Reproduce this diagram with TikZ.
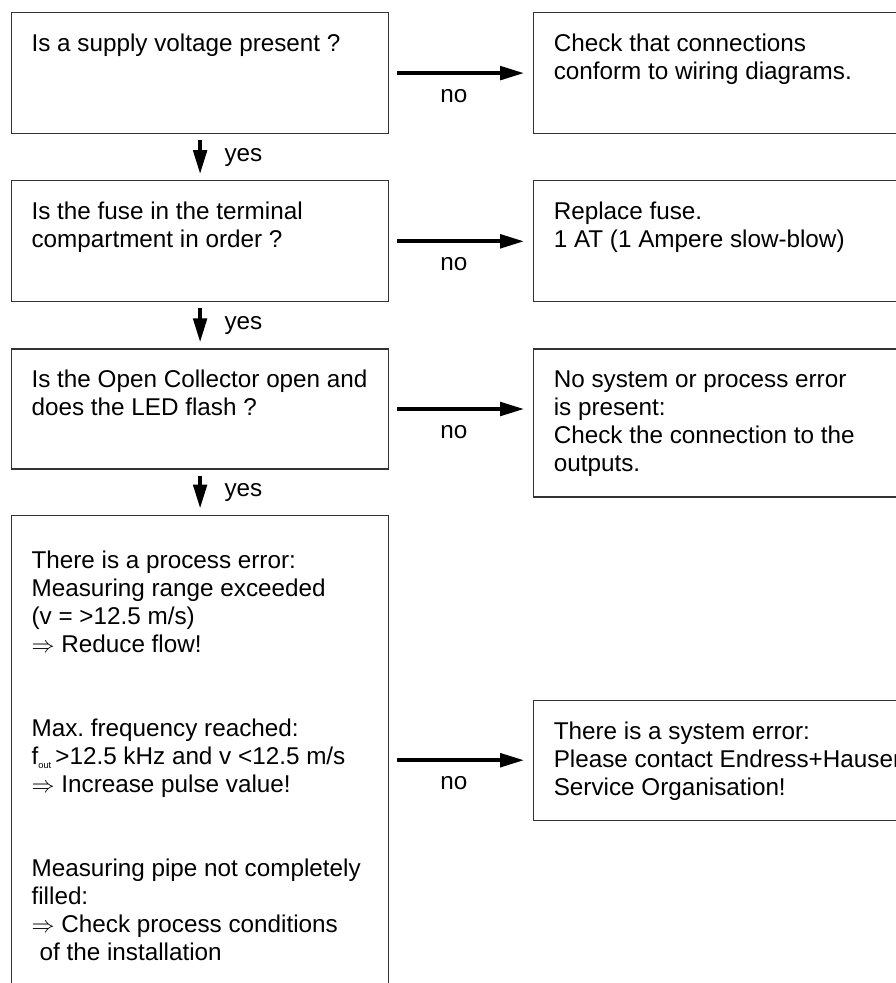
\documentclass[tikz,border=0pt]{standalone}
\usepackage{fontspec}
\setmainfont{Liberation Sans}
\usetikzlibrary{positioning,arrows.meta}
\frenchspacing

\newcommand{\cell}[4][0pt]{\parbox[t][#2][t]{#3}{\vspace*{#1}\strut#4}}

\tikzset{
  qbox/.style={draw=black!80, line width=0.9pt, inner xsep=15pt, inner ysep=14.5pt,
    anchor=north west, font=\fontsize{18.2}{21}\selectfont},
  flow/.style={-{Triangle[length=18pt,width=10pt]}, line width=3pt},
  lbl/.style={font=\fontsize{18.2}{21}\selectfont}
}

\begin{document}
\begin{tikzpicture}[x=0.75pt,y=-0.75pt]
\useasboundingbox (0,0) rectangle (896,983);

\node[qbox] (q1) at (11,12) {\cell{61.75pt}{252.75pt}{Is a supply voltage present ?}};
\node[qbox, below=34.5pt of q1] (q2) {\cell{61.75pt}{252.75pt}{Is the fuse in the terminal\\compartment in order ?}};
\node[qbox, below=34.5pt of q2] (q3) {\cell{61pt}{252.75pt}{Is the Open Collector open and\\does the LED flash ?}};
\node[qbox, below=33.75pt of q3] (q4) {\cell[11pt]{400pt}{252.75pt}{There is a process error:\\
  Measuring range exceeded\\
  (v = >12.5 m/s)\\
  $\Rightarrow$ Reduce flow!\\[42pt]
  Max. frequency reached:\\
  f\raisebox{-2.5pt}{\fontsize{7}{7}\selectfont out}\,>12.5 kHz and v <12.5 m/s\\
  $\Rightarrow$ Increase pulse value!\\[42pt]
  Measuring pipe not completely\\
  filled:\\
  $\Rightarrow$ Check process conditions\\
  \hspace*{6pt}of the installation}};

\node[qbox, below right=0pt and 108pt of q1.north east] (r1) {\cell{61.75pt}{270pt}{Check that connections\\conform to wiring diagrams.}};
\node[qbox, below right=0pt and 108pt of q2.north east] (r2) {\cell{61.75pt}{270pt}{Replace fuse.\\1 AT (1 Ampere slow-blow)}};
\node[qbox, below right=0pt and 108pt of q3.north east] (r3) {\cell{82pt}{270pt}{No system or process error\\is present:\\Check the connection to the\\outputs.}};
\node[qbox, below right=138.75pt and 108pt of q4.north east] (r4) {\cell{61pt}{270pt}{There is a system error:\\Please contact Endress+Hauser\\Service Organisation!}};

% no branches
\draw[flow, shorten <=6pt, shorten >=6.75pt] (q1) -- (r1) node[midway, lbl, xshift=-5.5pt, yshift=-17pt] {no};
\draw[flow, shorten <=6pt, shorten >=6.75pt] (q2) -- (r2) node[midway, lbl, xshift=-5.5pt, yshift=-17pt] {no};
\draw[flow, shorten <=6pt, shorten >=6.75pt] (q3) -- (q3 -| r3.west) node[midway, lbl, xshift=-5.5pt, yshift=-17pt] {no};
\draw[flow, shorten <=6pt, shorten >=6.75pt] (q4.east |- r4) -- (r4) node[midway, lbl, xshift=-5.5pt, yshift=-17pt] {no};

% yes branches
\draw[flow, shorten <=4.5pt, shorten >=4.5pt] (q1) -- (q2) node[midway, lbl, right=13.5pt] {yes};
\draw[flow, shorten <=4.5pt, shorten >=4.5pt] (q2) -- (q3) node[midway, lbl, right=13.5pt] {yes};
\draw[flow, shorten <=4.5pt, shorten >=4.5pt] (q3) -- (q4) node[midway, lbl, right=13.5pt] {yes};
\end{tikzpicture}
\end{document}
